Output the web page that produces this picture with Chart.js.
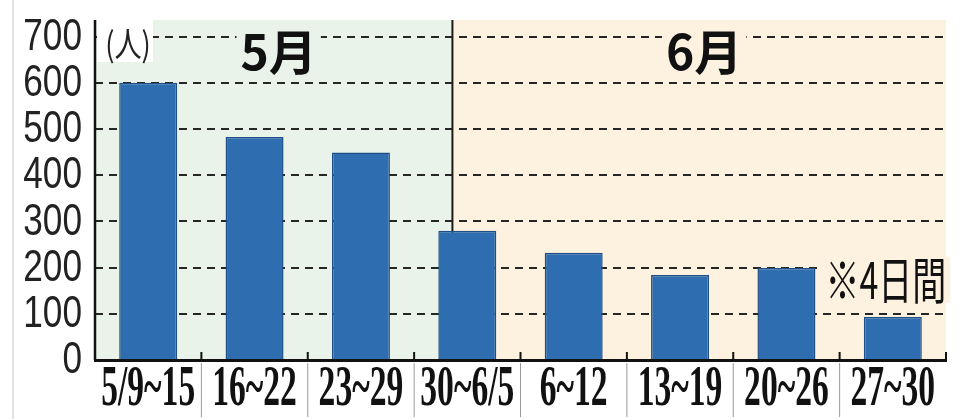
<!DOCTYPE html>
<html>
<head>
<meta charset="utf-8">
<script src="https://cdn.jsdelivr.net/npm/chart.js@4.4.1/dist/chart.umd.min.js"></script>
<style>
    body { margin: 0; background: #fff; }
    #wrap { position: relative; width: 962px; height: 419px; }
    #edge { position: absolute; left: 12px; top: 0; width: 2px; height: 419px; background: #e2e2e2; }
</style>
</head>
<body>
<div id="wrap">
    <div id="edge"></div>
    <canvas id="chart"></canvas>
</div>
<script>
var categories = ['5/9~15', '16~22', '23~29', '30~6/5', '6~12', '13~19', '20~26', '27~30'];
var visitors = [600, 483, 449, 280, 232, 184, 199, 93];
var yTicks = [0, 100, 200, 300, 400, 500, 600, 700];
var monthNames = ['5月', '6月'];
var unitLabel = '(人)';
var noteLabel = '※4日間';

var greenBg = 'rgb(233, 243, 234)';
var peachBg = 'rgb(253, 241, 224)';

// June starts inside the "30~6/5" week, a bit left of its centre
function monthSplit(x) {
    return x.getPixelForValue(3) - 0.14 * (x.getPixelForValue(1) - x.getPixelForValue(0));
}

function boxedText(ctx, text, cx, cy, font, bg, sx, h) {
    ctx.save();
    ctx.font = font;
    var w = ctx.measureText(text).width * sx;
    ctx.fillStyle = bg;
    ctx.fillRect(cx - w / 2 - 4, cy - h / 2, w + 8, h);
    ctx.fillStyle = '#111';
    ctx.textAlign = 'center';
    ctx.textBaseline = 'middle';
    ctx.translate(cx, cy);
    ctx.scale(sx, 1);
    ctx.fillText(text, 0, 0);
    ctx.restore();
}

var backgroundPlugin = {
    id: 'monthBackground',
    beforeDraw: function (chart) {
        var ctx = chart.ctx, area = chart.chartArea, x = chart.scales.x;
        var split = monthSplit(x);
        ctx.save();
        ctx.fillStyle = greenBg;
        ctx.fillRect(area.left, area.top, split - area.left, area.bottom - area.top);
        ctx.fillStyle = peachBg;
        ctx.fillRect(split, area.top, area.right - split, area.bottom - area.top);
        ctx.restore();
    },
    beforeDatasetsDraw: function (chart) {
        var ctx = chart.ctx, area = chart.chartArea, x = chart.scales.x;
        var split = monthSplit(x);
        ctx.save();
        ctx.strokeStyle = '#1a1a1a';
        ctx.lineWidth = 2;
        ctx.beginPath();
        ctx.moveTo(split, area.top);
        ctx.lineTo(split, area.bottom);
        ctx.stroke();
        // solid y axis line
        ctx.strokeStyle = '#111';
        ctx.lineWidth = 2.5;
        ctx.beginPath();
        ctx.moveTo(area.left, area.top);
        ctx.lineTo(area.left, area.bottom);
        ctx.stroke();
        ctx.restore();
    },
    afterDraw: function (chart) {
        var ctx = chart.ctx, area = chart.chartArea, x = chart.scales.x, y = chart.scales.y;
        var split = monthSplit(x);
        var step = x.getPixelForValue(1) - x.getPixelForValue(0);

        // y tick labels, narrowed
        ctx.save();
        ctx.fillStyle = '#222';
        ctx.font = '44px "Liberation Sans"';
        ctx.textAlign = 'right';
        ctx.textBaseline = 'middle';
        yTicks.forEach(function (v) {
            ctx.save();
            ctx.translate(area.left - 13, y.getPixelForValue(v) + 1);
            ctx.scale(0.8, 1);
            ctx.fillText(String(v), 0, 0);
            ctx.restore();
        });
        ctx.restore();

        // unit label
        ctx.save();
        ctx.fillStyle = '#fff';
        ctx.fillRect(area.left + 2, area.top, 56, 42);
        ctx.fillStyle = '#222';
        ctx.font = '34px "Noto Sans CJK JP"';
        ctx.textAlign = 'center';
        ctx.textBaseline = 'middle';
        ctx.translate(area.left + 33, area.top + 24);
        ctx.scale(0.8, 1);
        ctx.fillText(unitLabel, 0, 0);
        ctx.restore();

        // month labels
        var monthY = y.getPixelForValue(700) + 15;
        boxedText(ctx, monthNames[0], (area.left + split) / 2 + 5, monthY, 'bold 48px "Noto Sans CJK JP"', greenBg, 1, 46);
        boxedText(ctx, monthNames[1], (split + area.right) / 2 + 5, monthY, 'bold 48px "Noto Sans CJK JP"', peachBg, 1, 46);

        // note above the last bar
        boxedText(ctx, noteLabel, x.getPixelForValue(7) - 7, y.getPixelForValue(174), '50px "Noto Sans CJK JP"', peachBg, 0.68, 46);

        // category labels, separators and small up-ticks
        ctx.save();
        for (var i = 1; i <= categories.length; i++) {
            var bx = i < categories.length ? x.getPixelForValue(i) - step / 2 : area.right;
            ctx.strokeStyle = '#111';
            ctx.lineWidth = 2;
            ctx.beginPath();
            ctx.moveTo(bx, area.bottom - 8);
            ctx.lineTo(bx, area.bottom);
            ctx.stroke();
            if (i < categories.length) {
                ctx.strokeStyle = '#999';
                ctx.lineWidth = 1;
                ctx.beginPath();
                ctx.moveTo(bx, area.bottom + 3);
                ctx.lineTo(bx, area.bottom + 57);
                ctx.stroke();
            }
        }
        ctx.fillStyle = '#111';
        ctx.font = 'bold 56px "Liberation Serif"';
        ctx.textAlign = 'center';
        ctx.textBaseline = 'middle';
        categories.forEach(function (label, i) {
            ctx.save();
            ctx.translate(x.getPixelForValue(i), area.bottom + 31);
            ctx.scale(0.6, 1);
            ctx.fillText(label, 0, 0);
            ctx.restore();
        });
        ctx.restore();
    }
};

var ctx = document.getElementById('chart').getContext('2d');
var chart = new Chart(ctx, {
    type: 'bar',
    data: {
        labels: categories,
        datasets: [{
            label: '人数',
            data: visitors,
            backgroundColor: '#2e6db0',
            borderColor: '#1f4f86',
            borderWidth: 1.5,
            barPercentage: 0.545,
            categoryPercentage: 1
        }]
    },
    options: {
        responsive: true,
        maintainAspectRatio: false,
        animation: false,
        layout: {
            padding: { top: 20, right: 16, bottom: 59, left: 0 }
        },
        scales: {
            x: {
                ticks: { display: false },
                grid: { display: false, drawTicks: false },
                border: { display: true, color: '#111', width: 3, z: 1 }
            },
            y: {
                min: 0,
                max: 736,
                afterFit: function (scale) {
                    scale.width = 95;
                    scale.paddingTop = 0;
                    scale.paddingBottom = 0;
                },
                afterBuildTicks: function (scale) {
                    scale.ticks = yTicks.map(function (v) { return { value: v }; });
                },
                ticks: { display: false },
                grid: {
                    color: function (c) { return c.tick && c.tick.value === 0 ? 'rgba(0,0,0,0)' : '#262626'; },
                    lineWidth: 2,
                    drawTicks: false
                },
                border: { display: false, dash: [8, 6] }
            }
        },
        plugins: {
            legend: { display: false },
            tooltip: { enabled: false }
        }
    },
    plugins: [backgroundPlugin]
});
</script>
</body>
</html>
